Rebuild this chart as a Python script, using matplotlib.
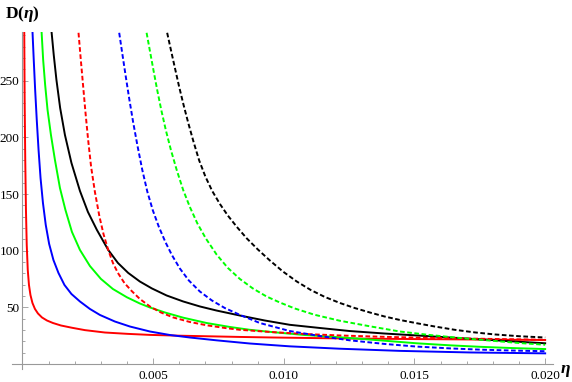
import matplotlib
matplotlib.use("Agg")
import matplotlib.pyplot as plt

# valores: eta (en milesimas) y D(eta)
red_solid_eta = [0.069, 0.084, 0.107, 0.134, 0.164, 0.203, 0.249, 0.306, 0.382, 0.478, 0.593,
                 0.746, 0.937, 1.166, 1.472, 1.893, 2.39, 3.155, 4.034, 4.876, 6.0, 7.04, 8.3,
                 9.59, 12.14, 15.07, 17.5, 20.0]
red_solid_d = [292.3, 233.1, 180.1, 136, 105.1, 83, 69.8, 60.9, 53.9, 48.6, 44.6, 41.1, 38.4,
               36.2, 34.0, 32.0, 29.9, 27.8, 26.6, 25.7, 25.0, 24.5, 23.9, 23.4, 22.6, 22.0,
               21.6, 21.2]

blue_solid_eta = [0.386, 0.432, 0.486, 0.547, 0.616, 0.692, 0.784, 0.891, 1.021, 1.185, 1.377,
                  1.606, 1.874, 2.199, 2.581, 2.964, 3.537, 4.111, 4.876, 5.641, 6.405, 7.426,
                  8.7, 10.229, 12.141, 14.436, 17.113, 20.0]
blue_solid_d = [292.3, 268.4, 241.9, 215.5, 189.0, 164.2, 142.2, 122.8, 106.0, 91.8, 80.4, 69.8,
                61.8, 55.2, 48.6, 43.3, 37.5, 33.1, 28.7, 25.6, 23.4, 20.9, 18.1, 15.6, 13.5,
                11.6, 10.2, 9.4]

green_solid_eta = [0.734, 0.792, 0.868, 0.96, 1.09, 1.243, 1.434, 1.644, 1.893, 2.199, 2.581,
                   3.002, 3.461, 3.996, 4.493, 4.876, 5.449, 6.149, 7.044, 7.935, 8.7, 9.591,
                   10.803, 12.141, 13.671, 15.075, 16.348, 17.495, 18.719, 20.0]
green_solid_d = [292.3, 268.4, 246.4, 224.3, 202.2, 180.1, 155.4, 136.0, 116.6, 100.7, 86.5,
                 75.1, 66.2, 58.9, 53.4, 49.9, 45.5, 40.9, 36.2, 32.7, 30.2, 28.1, 25.6, 23.6,
                 20.9, 18.3, 16.5, 15.2, 14.1, 13.2]

black_solid_eta = [1.117, 1.197, 1.3, 1.442, 1.625, 1.874, 2.199, 2.505, 2.849, 3.281, 3.652,
                   4.046, 4.493, 4.952, 5.514, 6.149, 6.788, 7.426, 8.317, 9.273, 10.229, 11.377,
                   12.524, 13.862, 15.086, 16.348, 17.495, 18.719, 20.0]
black_solid_d = [292.3, 272.8, 250.8, 226.0, 202.2, 177.5, 152.8, 134.2, 118.3, 100.7, 89.2,
                 80.4, 72.8, 66.7, 60.5, 55.2, 50.8, 47.2, 42.8, 38.4, 34.6, 31.8, 29.1, 26.9,
                 25.2, 23.4, 21.8, 20.0, 18.3]

red_dash_eta = [2.145, 2.233, 2.321, 2.413, 2.513, 2.627, 2.772, 2.945, 3.105, 3.281, 3.461,
                3.652, 3.901, 4.176, 4.493, 4.876, 5.296, 5.767, 6.405, 7.044, 7.744, 8.317,
                9.591, 10.8, 12.14, 13.67, 15.07, 17.49, 20.0]
red_dash_d = [292.3, 268.4, 245.5, 221.6, 197.8, 174.0, 151.9, 130.2, 114.3, 100.7, 89.2, 80.4,
              71.5, 64.5, 57.4, 50.8, 45.5, 41.1, 37.1, 34.2, 31.8, 30.2, 28.1, 26.5, 25.2,
              24.1, 23.3, 22.3, 21.4]

blue_dash_eta = [3.702, 3.816, 3.943, 4.08, 4.233, 4.402, 4.585, 4.78, 4.99, 5.22, 5.468, 5.717,
                 6.023, 6.367, 6.788, 7.247, 7.744, 8.317, 9.082, 10.229, 11.377, 12.524,
                 13.862, 15.075, 16.348, 17.495, 18.719, 20.0]
blue_dash_d = [292.3, 274.6, 255.2, 234.9, 213.7, 192.5, 171.3, 151.9, 135.5, 121.0, 107.7,
               96.2, 84.3, 73.7, 64.0, 56.1, 49.4, 43.4, 36.2, 29.1, 24.7, 20.9, 17.7, 15.4,
               13.8, 12.7, 11.9, 11.3]

green_dash_eta = [4.75, 4.876, 5.01, 5.155, 5.315, 5.488, 5.679, 5.901, 6.149, 6.405, 6.692,
                  7.017, 7.426, 7.859, 8.317, 8.815, 9.338, 9.847, 10.421, 11.186, 12.141,
                  13.289, 14.436, 15.583, 16.73, 17.878, 19.025, 20.0]
green_dash_d = [292.3, 276.4, 259.6, 241.9, 223.8, 206.2, 189.0, 171.3, 153.6, 138.6, 124.1,
                110.8, 96.7, 84.8, 75.1, 66.7, 59.6, 54.3, 49.0, 43.4, 38.2, 33.3, 28.7, 25.6,
                23.0, 20.7, 18.5, 17.0]

black_dash_eta = [5.537, 5.679, 5.832, 5.992, 6.164, 6.348, 6.547, 6.761, 6.998, 7.258, 7.553,
                  7.859, 8.203, 8.585, 9.006, 9.465, 9.962, 10.497, 11.033, 11.568, 12.141,
                  12.715, 13.289, 13.862, 14.436, 15.086, 15.774, 16.539, 17.304, 18.069,
                  19.025, 20.0]
black_dash_d = [292.3, 277.3, 261.4, 245.0, 228.7, 212.4, 196.0, 179.7, 165.5, 152.8, 141.3,
                131.0, 121.0, 110.8, 101.1, 91.4, 81.7, 72.8, 65.3, 59.2, 53.9, 49.4, 45.5,
                41.9, 38.9, 36.0, 33.1, 30.2, 27.9, 26.1, 24.5, 23.4]

x_major = [0.005, 0.010, 0.015, 0.020]
x_labels = ["0.005", "0.010", "0.015", "0.020"]
y_major = [50, 100, 150, 200, 250]

plt.rcParams["font.family"] = "Liberation Serif"
plt.rcParams["mathtext.fontset"] = "custom"
plt.rcParams["mathtext.rm"] = "Liberation Serif"
plt.rcParams["mathtext.bf"] = "Liberation Serif:bold"
plt.rcParams["mathtext.it"] = "Liberation Serif:italic"
plt.rcParams["mathtext.bfit"] = "Liberation Serif:bold:italic"

fig = plt.figure(figsize=(5.72, 3.82), dpi=100)
ax = fig.add_axes([12 / 572, 13 / 382, 541 / 572, 337 / 382])

curvas = [
    (red_solid_eta, red_solid_d, "#ff0000", "-"),
    (blue_solid_eta, blue_solid_d, "#0000ff", "-"),
    (green_solid_eta, green_solid_d, "#00ff00", "-"),
    (black_solid_eta, black_solid_d, "black", "-"),
    (red_dash_eta, red_dash_d, "#ff0000", "--"),
    (blue_dash_eta, blue_dash_d, "#0000ff", "--"),
    (green_dash_eta, green_dash_d, "#00ff00", "--"),
    (black_dash_eta, black_dash_d, "black", "--"),
]
for eta, d, color, estilo in curvas:
    eta_real = [e / 1000 for e in eta]
    if estilo == "--":
        ax.plot(eta_real, d, color=color, lw=1.4, dashes=(2.4, 1.3))
    else:
        ax.plot(eta_real, d, color=color, lw=1.4)

ax.set_xlim(-0.0004, 0.0203)
ax.set_ylim(-4.4, 293)

for s in ["top", "right"]:
    ax.spines[s].set_visible(False)
for s in ["left", "bottom"]:
    ax.spines[s].set_position(("data", 0))
    ax.spines[s].set_color("#999999")
    ax.spines[s].set_linewidth(0.8)

x_minor = [i / 1000 for i in range(1, 21) if i % 5 != 0]
y_minor = [i for i in range(10, 291, 10) if i % 50 != 0]
ax.set_xticks(x_major)
ax.set_xticklabels(x_labels)
ax.set_xticks(x_minor, minor=True)
ax.set_yticks(y_major)
ax.set_yticks(y_minor, minor=True)
ax.tick_params(which="both", direction="in", color="#999999", width=0.6, labelsize=9.5)
ax.tick_params(which="major", length=4)
ax.tick_params(which="minor", length=2.3)
ax.tick_params(axis="x", pad=4)
ax.tick_params(axis="y", pad=2)

fig.text(5 / 572, 1 - 14 / 382, r"$\mathbf{D}\mathbf{(}\boldsymbol{\eta}\mathbf{)}$",
         fontsize=12.5, va="center", ha="left")
fig.text(560 / 572, 1 - 371 / 382, r"$\boldsymbol{\eta}$", fontsize=12.5, va="center", ha="left")

fig.savefig("out.png", dpi=100)
